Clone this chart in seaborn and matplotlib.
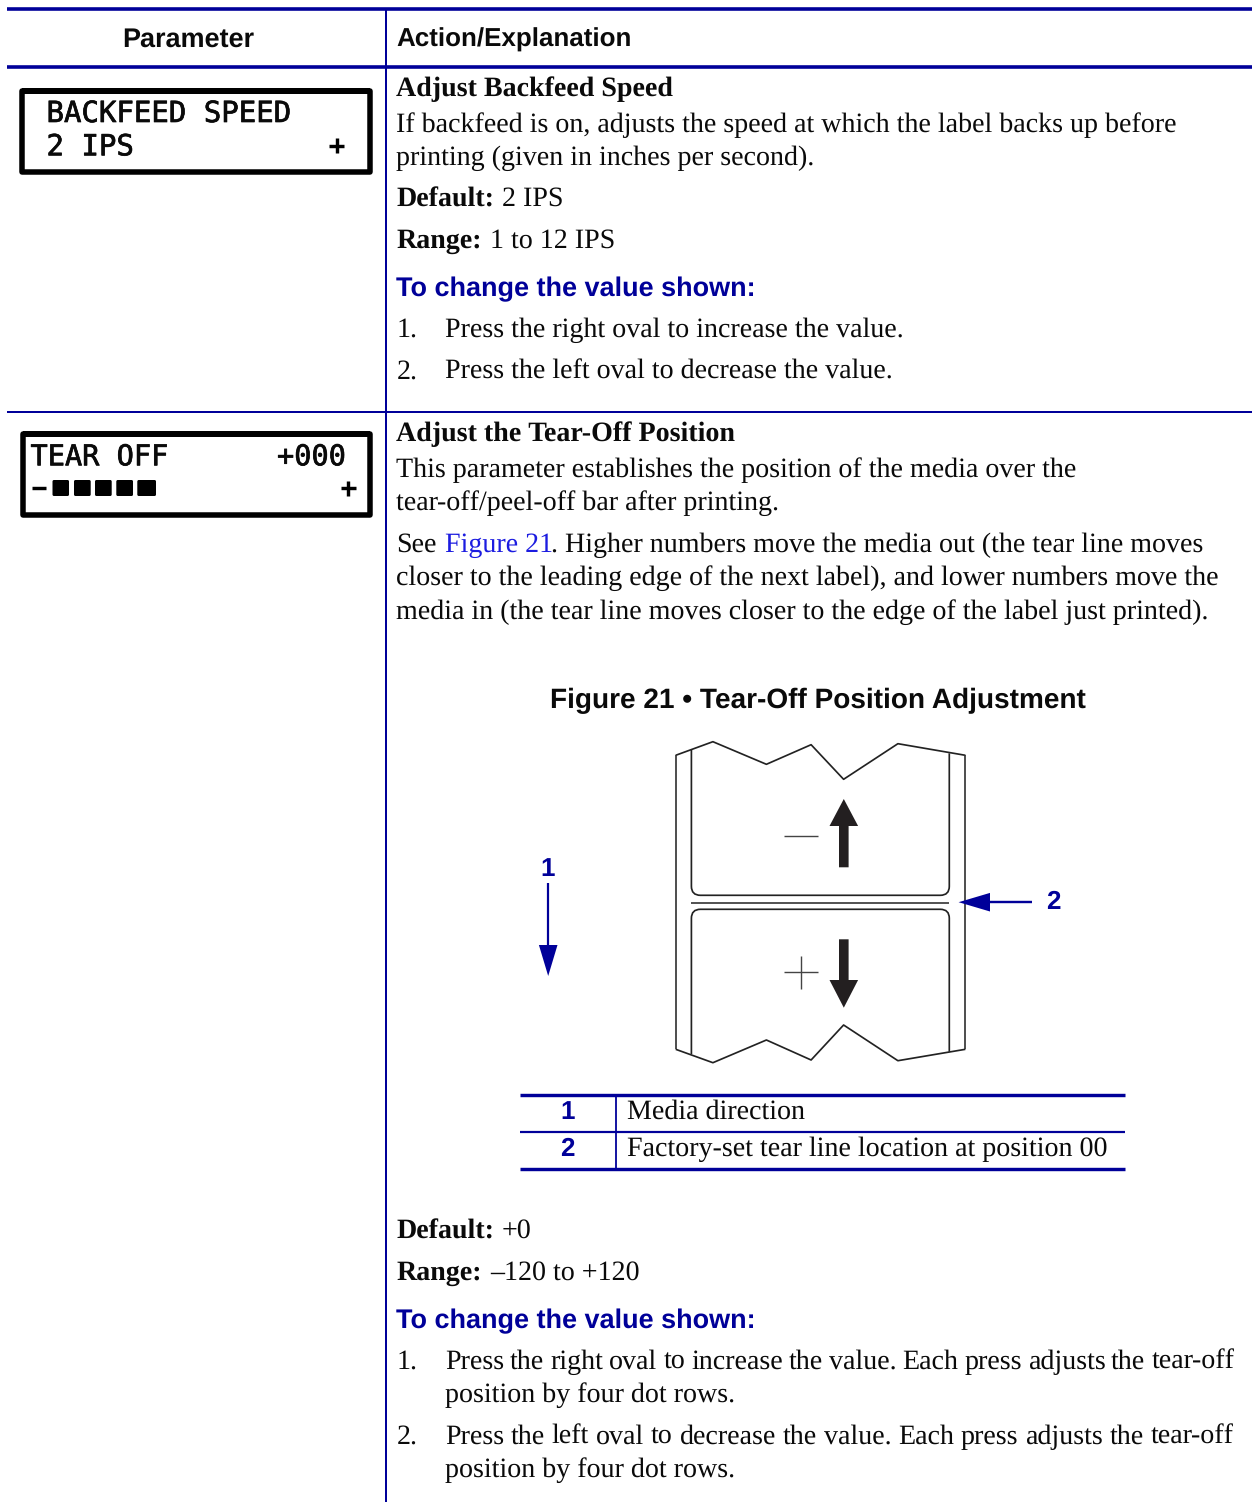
import matplotlib
matplotlib.use("Agg")
import matplotlib.pyplot as plt
import matplotlib.patheffects as pe
from matplotlib.path import Path
from matplotlib.patches import PathPatch, FancyBboxPatch
import seaborn as sns

W, H = 1252, 1502
NAVY = "#000099"
LINK = "#1c1ce0"
INK = "#0a0a0a"
SERIF = "Liberation Serif"
SANS = "Liberation Sans"
MONO = "DejaVu Sans Mono"
BODY = 20.0

# ---- text content -------------------------------------------------------
header_left = "Parameter"
header_right = "Action/Explanation"
lcd_one = ["BACKFEED SPEED", "2 IPS"]
lcd_two = ["TEAR OFF", "+000"]

serif_bold_lines = [
    (396.5, 96, "Adjust Backfeed Speed"), (396.5, 206.5, "Default:"), (396.5, 248, "Range:"),
    (396.5, 441, "Adjust the Tear-Off Position"), (396.5, 1238.5, "Default:"), (396.5, 1280, "Range:"),
]
serif_lines = [
    (396.5, 132, "If backfeed is on, adjusts the speed at which the label backs up before"),
    (396.5, 165, "printing (given in inches per second)."),
    (502, 206, "2 IPS"), (490, 248, "1 to 12 IPS"),
    (397, 337, "1."), (445, 337, "Press the right oval to increase the value."),
    (397, 378.5, "2."), (445, 378.5, "Press the left oval to decrease the value."),
    (396.5, 477, "This parameter establishes the position of the media over the"),
    (396.5, 510, "tear-off/peel-off bar after printing."),
    (396.5, 552, "See"),
    (551, 552, ". Higher numbers move the media out (the tear line moves"),
    (396.5, 585, "closer to the leading edge of the next label), and lower numbers move the"),
    (396.5, 619, "media in (the tear line moves closer to the edge of the label just printed)."),
    (502, 1238, "+0"), (490, 1280, "\u2013120 to +120"),
    (397, 1369, "1."),
    (445, 1402, "position by four dot rows."),
    (397, 1444, "2."),
    (445, 1477, "position by four dot rows."),
    (627, 1119, "Media direction"),
    (627, 1156, "Factory-set tear line location at position 00"),
]
fitted_lines = [  # x, baseline, text, right end
    (445, 1369, "Press the right oval to increase the value. Each press adjusts the tear-off", 1233),
    (445, 1444, "Press the left oval to decrease the value. Each press adjusts the tear-off", 1233),
]
change_heading = "To change the value shown:"
change_baselines = [296, 1328]
figure_title = "Figure 21 \u2022 Tear-Off Position Adjustment"
link_text = "Figure 21"

# ---- drawing geometry ----------------------------------------------------
rules = [  # x0, x1, y0, y1, px
    (7, 1252, 9, 9, 3.6), (7, 1252, 66.7, 66.7, 3.6), (7, 1252, 412, 412, 2),
    (386, 386, 9, 1502, 2),
    (520, 1125, 1095, 1095, 3.4), (520, 1125, 1131.7, 1131.7, 2.2), (520, 1125, 1168.5, 1168.5, 3.4),
    (616, 616, 1095, 1168, 1.8),
]
outline_top = ([675.7, 712.9, 766.4, 811.1, 843.6, 897.9, 965.4],
               [755.3, 741.7, 764.3, 744.7, 779.3, 743.7, 755.3])
outline_bottom = ([675.7, 712.9, 766.4, 811.1, 843.6, 897.9, 965.4],
                  [1049.3, 1062.7, 1040, 1060, 1025, 1060.7, 1049.3])

sns.set_theme(style="white")
plt.rcParams["text.hinting"] = "no_hinting"
plt.rcParams["text.hinting_factor"] = 1
fig = plt.figure(figsize=(W / 100, H / 100), dpi=100, facecolor="white")
ax = fig.add_axes([0, 0, 1, 1])
ax.set_axis_off()
ax.set_xlim(0, W)
ax.set_ylim(H, 0)
renderer = fig.canvas.get_renderer()


def px(v):
    return v * 0.72


def seg(xs, ys, color, width, cap="butt"):
    sns.lineplot(x=xs, y=ys, sort=False, estimator=None, color=color, linewidth=px(width),
                 solid_capstyle=cap, legend=False, ax=ax, zorder=3)


def txt(x, y, s, size, family=SERIF, weight="normal", color=INK, ha="left", stroke=0):
    t = ax.text(x, y, s, fontsize=size, family=family, weight=weight, color=color, ha=ha, va="baseline", zorder=5)
    if stroke:
        t.set_path_effects([pe.withStroke(linewidth=stroke, foreground=color)])
    return t


def text_width(s):
    t = txt(0, 0, s, BODY)
    w = t.get_window_extent(renderer).width
    t.remove()
    return w


def fitted(x, y, s, end):
    """Place a line word by word, closing the word gaps so that it ends at `end`."""
    words = s.split(" ")
    k = (end - x) / text_width(s)
    for i, word in enumerate(words):
        lead = text_width(" ".join(words[:i + 1])) - text_width(word)
        txt(x + lead * k, y, word, BODY)


for x0, x1, y0, y1, w in rules:
    seg([x0, x1], [y0, y1], NAVY, w)

# header
txt(188.5, 46.5, header_left, 19.4, SANS, "bold", ha="center")
txt(396.5, 46.5, header_right, 19, SANS, "bold")

# LCD panels
for (x0, y0, x1, y1) in [(21.5, 91, 369.5, 171.7), (22.7, 433.8, 370, 515)]:
    seg([x0, x1, x1, x0, x0, x1], [y0, y0, y1, y1, y0, y0], "black", 5.5)
txt(46.5, 122, lcd_one[0], 20.9, MONO, stroke=0.5)
txt(46.5, 155.3, lcd_one[1], 20.9, MONO, stroke=0.5)
txt(30.5, 465.3, lcd_two[0], 20.6, MONO, stroke=0.5)
txt(277, 465.3, lcd_two[1], 20.6, MONO, stroke=0.5)
for cx, cy in [(336.7, 145.7), (348.3, 488.3)]:
    seg([cx - 7.5, cx + 7.5], [cy, cy], "black", 3.4)
    seg([cx, cx], [cy - 7.5, cy + 7.5], "black", 3.4)
seg([32, 46], [488.3, 488.3], "black", 3.4)
for bx0, bx1 in [(52.5, 69), (74, 90.7), (95, 111.7), (116.3, 133), (137.3, 156)]:
    ax.add_patch(FancyBboxPatch((bx0 + 1, 481), bx1 - bx0 - 2, 14, boxstyle="round,pad=1,rounding_size=1.5",
                                fc="black", ec="none", zorder=4))

# body text
for x, y, s in serif_bold_lines:
    txt(x, y, s, BODY, weight="bold")
for x, y, s in serif_lines:
    txt(x, y, s, BODY)
for x, y, s, end in fitted_lines:
    fitted(x, y, s, end)
txt(445, 552, link_text, BODY, color=LINK)
for y in change_baselines:
    txt(396.5, y, change_heading, 19.15, SANS, "bold", NAVY)
txt(818, 708, figure_title, 20, SANS, "bold", ha="center")

# media strip
seg(*outline_top, "#222222", 1.7)
seg(*outline_bottom, "#222222", 1.7)
seg([675.7, 675.7], [755.3, 1049.3], "#333333", 1.7)
seg([965.4, 965.4], [755.3, 1049.3], "#333333", 1.7)
seg([691, 949], [902.7, 902.7], "#555555", 2)

L, R, r = 691.4, 949.3, 9
upper = Path([(L, 750), (L, 895.3 - r), (L, 895.3), (L + r, 895.3), (R - r, 895.3), (R, 895.3), (R, 895.3 - r), (R, 753.3)],
             [Path.MOVETO, Path.LINETO, Path.CURVE3, Path.CURVE3, Path.LINETO, Path.CURVE3, Path.CURVE3, Path.LINETO])
lower = Path([(L, 1054), (L, 909.3 + r), (L, 909.3), (L + r, 909.3), (R - r, 909.3), (R, 909.3), (R, 909.3 + r), (R, 1051.7)],
             [Path.MOVETO, Path.LINETO, Path.CURVE3, Path.CURVE3, Path.LINETO, Path.CURVE3, Path.CURVE3, Path.LINETO])
for p in (upper, lower):
    ax.add_patch(PathPatch(p, fc="none", ec="#222222", lw=px(1.7), zorder=3))

# black arrows and signs
cx = 843.8
ax.fill([cx, cx + 14.3, cx + 4.8, cx + 4.8, cx - 4.8, cx - 4.8, cx - 14.3],
        [799, 826, 826, 867.3, 867.3, 826, 826], color="#231f20", zorder=4, lw=0)
ax.fill([cx, cx + 14.3, cx + 4.8, cx + 4.8, cx - 4.8, cx - 4.8, cx - 14.3],
        [1007.7, 980, 980, 939.3, 939.3, 980, 980], color="#231f20", zorder=4, lw=0)
seg([783.6, 818.2], [835.7, 835.7], "#444444", 1.4)
seg([783.6, 818.2], [972.3, 972.3], "#444444", 1.4)
seg([801, 801], [955.7, 989.3], "#444444", 1.4)

# callouts
seg([548.2, 548.2], [883, 950], NAVY, 2.2)
ax.fill([538.9, 557.5, 548.2], [945, 945, 976], color=NAVY, zorder=4, lw=0)
seg([985, 1032], [902.2, 902.2], NAVY, 2.4)
ax.fill([958.6, 990, 990], [902.2, 892.9, 911.5], color=NAVY, zorder=4, lw=0)
txt(548, 876, "1", 19, SANS, "bold", NAVY, "center")
txt(1053.5, 909, "2", 19, SANS, "bold", NAVY, "center")
txt(567.5, 1119, "1", 19, SANS, "bold", NAVY, "center")
txt(567.5, 1156, "2", 19, SANS, "bold", NAVY, "center")

ax.set_xlim(0, W)
ax.set_ylim(H, 0)
fig.savefig("out.png", dpi=100, facecolor="white")
